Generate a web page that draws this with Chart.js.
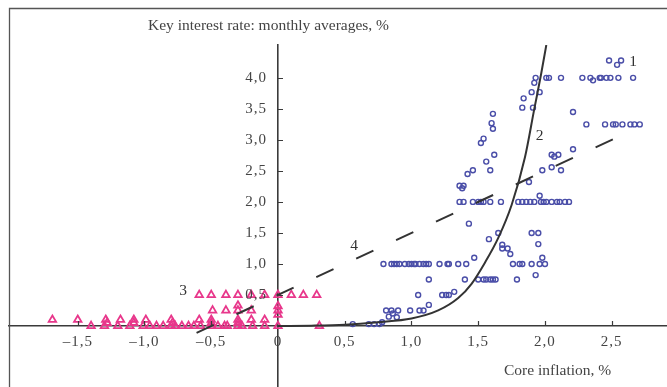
<!DOCTYPE html>
<html>
<head>
<meta charset="utf-8">
<script src="https://cdn.jsdelivr.net/npm/chart.js@4.4.1/dist/chart.umd.min.js"></script>
<style>
  html, body { margin: 0; padding: 0; background: #fff; }
  #wrap { width: 667px; height: 387px; }
</style>
</head>
<body>
<div id="wrap"><canvas id="chart" width="667" height="387"></canvas></div>
<script>
// tick values
const xTicks = [-1.5, -1, -0.5, 0, 0.5, 1, 1.5, 2, 2.5];
const yTicks = [0.5, 1, 1.5, 2, 2.5, 3, 3.5, 4];

// 1: months with positive core inflation (circles)
const circleX = [
  2.48, 2.57, 2.54,
  1.93, 2.01, 2.03, 2.12, 2.28, 2.34, 2.36, 2.41, 2.42, 2.46, 2.49, 2.55, 2.66,
  1.92, 1.90, 1.96, 1.84, 1.83, 1.91, 2.21, 1.61, 1.60,
  2.31, 2.45, 2.51, 2.53, 2.58, 2.64, 2.67, 2.71,
  1.61, 1.54, 1.52, 2.21, 1.62, 2.05, 2.10, 2.07, 1.56, 2.05,
  1.59, 1.46, 1.98, 2.12, 1.42, 1.88, 1.36, 1.39, 1.38, 1.96,
  1.36, 1.39, 1.46, 1.50, 1.52, 1.54, 1.59, 1.67, 1.80, 1.83, 1.86,
  1.89, 1.92, 1.97, 1.99, 2.01, 2.05, 2.09, 2.11, 2.15, 2.18,
  1.43, 1.65, 1.90, 1.95, 1.58, 1.95, 1.68, 1.68, 1.72, 1.74, 1.47, 1.98,
  0.79, 0.85, 0.87, 0.89, 0.91, 0.95, 0.98, 1.00, 1.02, 1.03, 1.06, 1.09, 1.11,
  1.13, 1.21, 1.27, 1.28, 1.35, 1.41, 1.76, 1.81, 1.83, 1.90, 1.96, 2.00,
  1.93,
  1.13, 1.40, 1.50, 1.54, 1.56, 1.59, 1.61, 1.63, 1.79,
  1.32, 1.05, 1.23, 1.26, 1.28, 1.13,
  0.81, 0.85, 0.90, 0.99, 1.06, 1.09,
  0.86, 0.83, 0.89, 0.78,
  0.56, 0.68, 0.72, 0.76
];
const circleY = [
  4.28, 4.28, 4.21,
  4.0, 4.0, 4.0, 4.0, 4.0, 4.0, 3.96, 4.0, 4.0, 4.0, 4.0, 4.0, 4.0,
  3.92, 3.77, 3.77, 3.67, 3.52, 3.52, 3.45, 3.42, 3.27,
  3.25, 3.25, 3.25, 3.25, 3.25, 3.25, 3.25, 3.25,
  3.18, 3.02, 2.95, 2.85, 2.76, 2.76, 2.76, 2.73, 2.65, 2.56,
  2.51, 2.51, 2.51, 2.51, 2.45, 2.32, 2.26, 2.26, 2.22, 2.10,
  2.0, 2.0, 2.0, 2.0, 2.0, 2.0, 2.0, 2.0, 2.0, 2.0, 2.0,
  2.0, 2.0, 2.0, 2.0, 2.0, 2.0, 2.0, 2.0, 2.0, 2.0,
  1.65, 1.50, 1.50, 1.50, 1.40, 1.32, 1.31, 1.25, 1.25, 1.16, 1.10, 1.10,
  1.0, 1.0, 1.0, 1.0, 1.0, 1.0, 1.0, 1.0, 1.0, 1.0, 1.0, 1.0, 1.0,
  1.0, 1.0, 1.0, 1.0, 1.0, 1.0, 1.0, 1.0, 1.0, 1.0, 1.0, 1.0,
  0.82,
  0.75, 0.75, 0.75, 0.75, 0.75, 0.75, 0.75, 0.75, 0.75,
  0.55, 0.50, 0.50, 0.50, 0.50, 0.34,
  0.25, 0.25, 0.25, 0.25, 0.25, 0.25,
  0.20, 0.15, 0.14, 0.06,
  0.03, 0.03, 0.03, 0.03
];

// 3: months with low / negative core inflation (triangles)
const triangleX = [
  -0.59, -0.50, -0.39, -0.30, -0.20, -0.10, 0.0, 0.10, 0.19, 0.29,
  -0.30, 0.0,
  -0.49, -0.39, -0.30, -0.20, 0.0,
  0.0,
  -1.69, -1.50, -1.29, -1.18, -1.08, -0.99, -0.80, -0.59, -0.50, -0.30, -0.20, -0.10,
  -1.28, -1.08, -0.79, -0.50, -0.30,
  -1.40, -1.30, -1.20, -1.11, -1.01, -0.96, -0.91, -0.86, -0.80, -0.77, -0.72, -0.67,
  -0.63, -0.58, -0.50, -0.45, -0.40, -0.38, -0.30, -0.27, -0.19, -0.10, 0.0, 0.31
];
const triangleY = [
  0.5, 0.5, 0.5, 0.5, 0.5, 0.5, 0.5, 0.5, 0.5, 0.5,
  0.33, 0.32,
  0.25, 0.25, 0.25, 0.25, 0.25,
  0.18,
  0.1, 0.1, 0.1, 0.1, 0.1, 0.1, 0.1, 0.1, 0.1, 0.1, 0.1, 0.1,
  0.05, 0.05, 0.05, 0.05, 0.05,
  0, 0, 0, 0, 0, 0, 0, 0, 0, 0, 0, 0,
  0, 0, 0, 0, 0, 0, 0, 0, 0, 0, 0, 0
];

// 2: nonlinear fit (solid curve)
const curveX = [0, 0.25, 0.5, 0.75, 1.0, 1.2, 1.35, 1.45, 1.55, 1.65, 1.75, 1.85, 1.92, 1.97, 2.01];
const curveY = [0, 0.005, 0.02, 0.06, 0.12, 0.25, 0.45, 0.68, 1.02, 1.42, 1.95, 2.72, 3.5, 4.05, 4.53];

// 4: linear fit (dashed)
const trendX = [-0.61, 2.53];
const trendY = [-0.11, 3.03];

// series numbers, in data units
const labelText = ['1', '2', '3', '4'];
const labelX = [2.66, 1.96, -0.71, 0.57];
const labelY = [4.25, 3.06, 0.56, 1.29];

const toPoints = (xs, ys) => xs.map((x, i) => ({ x: x, y: ys[i] }));
const fmt = v => v === 0 ? '0' : v.toFixed(1).replace('.', ',').replace('-', '\u2013');

const TEXT = '#444';
const AXIS = '#3a3a3a';
const FONT = '"Liberation Serif", "Times New Roman", serif';

// frame, inward tick marks, tick labels, titles and series numbers
const decor = {
    id: 'decor',
    afterDraw(chart) {
        const ctx = chart.ctx;
        const xs = chart.scales.x, ys = chart.scales.y;
        const x0 = xs.getPixelForValue(0), y0 = ys.getPixelForValue(0);
        ctx.save();
        ctx.strokeStyle = '#555';
        ctx.lineWidth = 1.3;
        ctx.beginPath();
        ctx.moveTo(9.5, 400);
        ctx.lineTo(9.5, 8.5);
        ctx.lineTo(680, 8.5);
        ctx.stroke();

        ctx.strokeStyle = AXIS;
        ctx.lineWidth = 1.2;
        ctx.beginPath();
        xTicks.forEach(v => {
            if (v === 0) return;
            const p = Math.round(xs.getPixelForValue(v)) + 0.5;
            ctx.moveTo(p, y0);
            ctx.lineTo(p, y0 - 5);
        });
        yTicks.forEach(v => {
            const p = Math.round(ys.getPixelForValue(v)) + 0.5;
            ctx.moveTo(x0, p);
            ctx.lineTo(x0 + 5, p);
        });
        ctx.stroke();

        ctx.fillStyle = TEXT;
        ctx.textBaseline = 'middle';
        ctx.font = '15px ' + FONT;
        ctx.letterSpacing = '1px';
        ctx.textAlign = 'center';
        xTicks.forEach(v => ctx.fillText(fmt(v), xs.getPixelForValue(v), y0 + 16));
        ctx.textAlign = 'right';
        yTicks.forEach(v => ctx.fillText(fmt(v), x0 - 11, ys.getPixelForValue(v)));
        ctx.letterSpacing = '0px';

        ctx.font = '15.5px ' + FONT;
        ctx.textAlign = 'left';
        ctx.fillText('Key interest rate: monthly averages, %', 148, 26);
        ctx.fillText('Core inflation, %', 504, 371);

        ctx.fillStyle = '#333';
        ctx.textAlign = 'center';
        labelText.forEach((t, i) => {
            ctx.fillText(t, xs.getPixelForValue(labelX[i]), ys.getPixelForValue(labelY[i]));
        });
        ctx.restore();
    }
};

new Chart(document.getElementById('chart'), {
    type: 'scatter',
    data: {
        datasets: [
            {
                label: '1',
                data: toPoints(circleX, circleY),
                pointStyle: 'circle',
                pointRadius: 2.5,
                borderWidth: 1.4,
                borderColor: '#4a4ea8',
                backgroundColor: 'rgba(255,255,255,0)',
                order: 2
            },
            {
                label: '3',
                data: toPoints(triangleX, triangleY),
                pointStyle: 'triangle',
                pointRadius: 4.3,
                borderWidth: 1.8,
                borderColor: '#e8378b',
                backgroundColor: 'rgba(255,255,255,0)',
                order: 2
            },
            {
                label: '2',
                type: 'line',
                data: toPoints(curveX, curveY),
                showLine: true,
                borderColor: '#333',
                borderWidth: 2,
                pointRadius: 0,
                cubicInterpolationMode: 'monotone',
                fill: false,
                order: 1
            },
            {
                label: '4',
                type: 'line',
                data: toPoints(trendX, trendY),
                showLine: true,
                borderColor: '#333',
                borderWidth: 2,
                borderDash: [19, 25],
                pointRadius: 0,
                fill: false,
                order: 1
            }
        ]
    },
    options: {
        responsive: false,
        animation: false,
        devicePixelRatio: 1,
        layout: { autoPadding: false, padding: { left: 9, top: 45, right: 0, bottom: 0 } },
        plugins: {
            legend: { display: false },
            tooltip: { enabled: false },
            title: { display: false }
        },
        scales: {
            x: {
                type: 'linear',
                min: -2.015,
                max: 2.914,
                position: { y: 0 },
                afterBuildTicks: s => { s.ticks = xTicks.map(v => ({ value: v })); },
                grid: { display: true, drawOnChartArea: false, drawTicks: false },
                border: { color: AXIS, width: 1.6 },
                ticks: { display: false }
            },
            y: {
                type: 'linear',
                min: -0.984,
                max: 4.53,
                position: { x: 0 },
                afterBuildTicks: s => { s.ticks = yTicks.map(v => ({ value: v })); },
                grid: { display: true, drawOnChartArea: false, drawTicks: false },
                border: { color: AXIS, width: 1.6 },
                ticks: { display: false }
            }
        }
    },
    plugins: [decor]
});
</script>
</body>
</html>
